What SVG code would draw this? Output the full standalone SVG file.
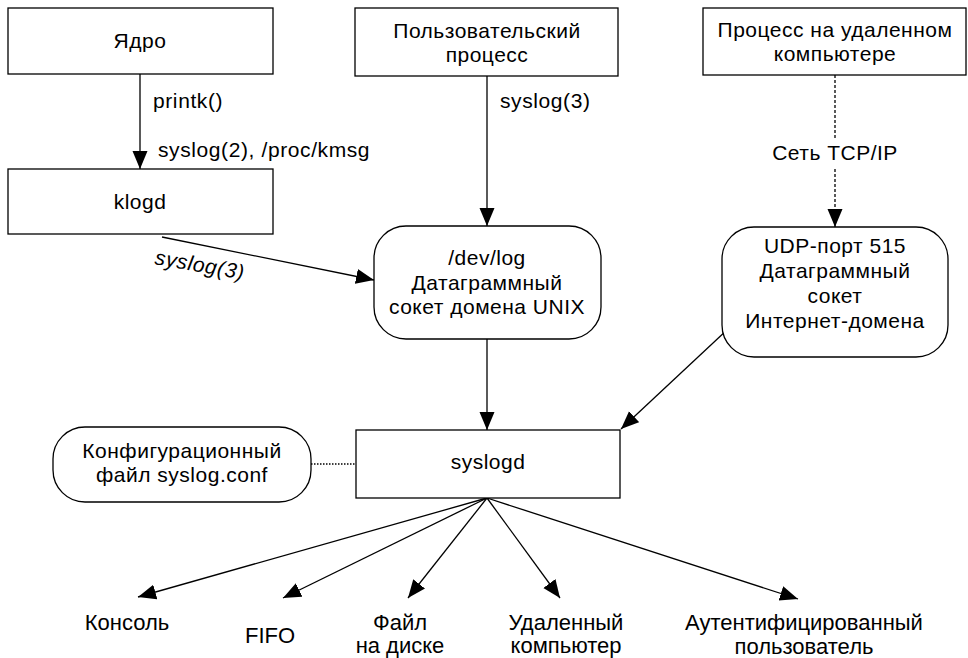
<svg xmlns="http://www.w3.org/2000/svg" width="968" height="658" viewBox="0 0 968 658">
  <style>
    .box { fill: #fff; stroke: #000; stroke-width: 1.3; }
    .t { font-family: "Liberation Sans", Arial, sans-serif; font-size: 21px; letter-spacing: 0.5px; fill: #000; text-anchor: middle; }
    .l { font-family: "Liberation Sans", Arial, sans-serif; font-size: 21px; letter-spacing: 0.6px; fill: #000; }
    .b { font-family: "Liberation Sans", Arial, sans-serif; font-size: 22px; fill: #000; text-anchor: middle; }
    .c { stroke: #000; stroke-width: 1.3; fill: none; }
    .arr { marker-end: url(#ah); }
    .dash { stroke-dasharray: 3 2; }
    .dot { stroke-dasharray: 1.5 1.5; }
  </style>
  <defs>
    <marker id="ah" markerUnits="userSpaceOnUse" markerWidth="20" markerHeight="16" refX="18" refY="7.5" orient="auto">
      <path d="M0,0 L18,7.5 L0,15 Z" fill="#000"/>
    </marker>
  </defs>
  <rect width="968" height="658" fill="#fff"/>

  <g id="connectors">
    <line class="c arr" x1="140" y1="74" x2="140" y2="169"/>
    <line class="c arr" x1="487" y1="76" x2="487" y2="226"/>
    <line class="c arr" x1="162" y1="237" x2="374" y2="280"/>
    <line class="c dash" x1="835" y1="75" x2="835" y2="138"/>
    <line class="c dash arr" x1="835" y1="169" x2="835" y2="227"/>
    <line class="c arr" x1="487" y1="339" x2="487" y2="430"/>
    <line class="c arr" x1="728" y1="329" x2="621" y2="429"/>
    <line class="c dot" x1="311" y1="464" x2="356" y2="464"/>
    <line class="c arr" x1="487" y1="498" x2="138" y2="597"/>
    <line class="c arr" x1="487" y1="498" x2="283" y2="598"/>
    <line class="c arr" x1="487" y1="498" x2="408" y2="598"/>
    <line class="c arr" x1="487" y1="498" x2="560" y2="598"/>
    <line class="c arr" x1="487" y1="498" x2="798" y2="599"/>
    <text class="l" x="153" y="108">printk()</text>
    <text class="l" x="158" y="157">syslog(2), /proc/kmsg</text>
    <text class="l" x="500" y="108">syslog(3)</text>
    <text class="l" x="154" y="264" font-style="italic" transform="rotate(10 154 264)">syslog(3)</text>
    <text class="t" x="835" y="160">Сеть TCP/IP</text>
  </g>

  <g id="kernel">
    <rect class="box" x="8" y="8" width="265" height="66"/>
    <text class="t" x="140" y="48">Ядро</text>
  </g>
  <g id="klogd">
    <rect class="box" x="8" y="169" width="265" height="65"/>
    <text class="t" x="140" y="209">klogd</text>
  </g>
  <g id="userproc">
    <rect class="box" x="355" y="8" width="263" height="68"/>
    <text class="t" x="487" y="38">Пользовательский</text>
    <text class="t" x="487" y="62">процесс</text>
  </g>
  <g id="remoteproc">
    <rect class="box" x="703" y="8" width="263" height="67"/>
    <text class="t" x="835" y="37">Процесс на удаленном</text>
    <text class="t" x="835" y="61">компьютере</text>
  </g>
  <g id="devlog">
    <rect class="box" x="374" y="226" width="227" height="113" rx="32"/>
    <text class="t" x="487" y="265">/dev/log</text>
    <text class="t" x="487" y="290">Датаграммный</text>
    <text class="t" x="487" y="314">сокет домена UNIX</text>
  </g>
  <g id="udp">
    <rect class="box" x="722" y="227" width="226" height="130" rx="32"/>
    <text class="t" x="835" y="253">UDP-порт 515</text>
    <text class="t" x="835" y="278">Датаграммный</text>
    <text class="t" x="835" y="303">сокет</text>
    <text class="t" x="835" y="328">Интернет-домена</text>
  </g>
  <g id="config">
    <rect class="box" x="53" y="427" width="258" height="75" rx="32"/>
    <text class="t" x="182" y="458">Конфигурационный</text>
    <text class="t" x="182" y="482">файл syslog.conf</text>
  </g>
  <g id="syslogd">
    <rect class="box" x="356" y="430" width="264" height="68"/>
    <text class="t" x="488" y="469">syslogd</text>
  </g>

  <g id="console"><text class="b" x="127" y="630">Консоль</text></g>
  <g id="fifo"><text class="b" x="270" y="643">FIFO</text></g>
  <g id="file"><text class="b" x="400" y="630">Файл</text><text class="b" x="400" y="653">на диске</text></g>
  <g id="remote"><text class="b" x="566" y="630">Удаленный</text><text class="b" x="566" y="653">компьютер</text></g>
  <g id="authuser"><text class="b" x="804" y="630">Аутентифицированный</text><text class="b" x="804" y="654">пользователь</text></g>
</svg>
